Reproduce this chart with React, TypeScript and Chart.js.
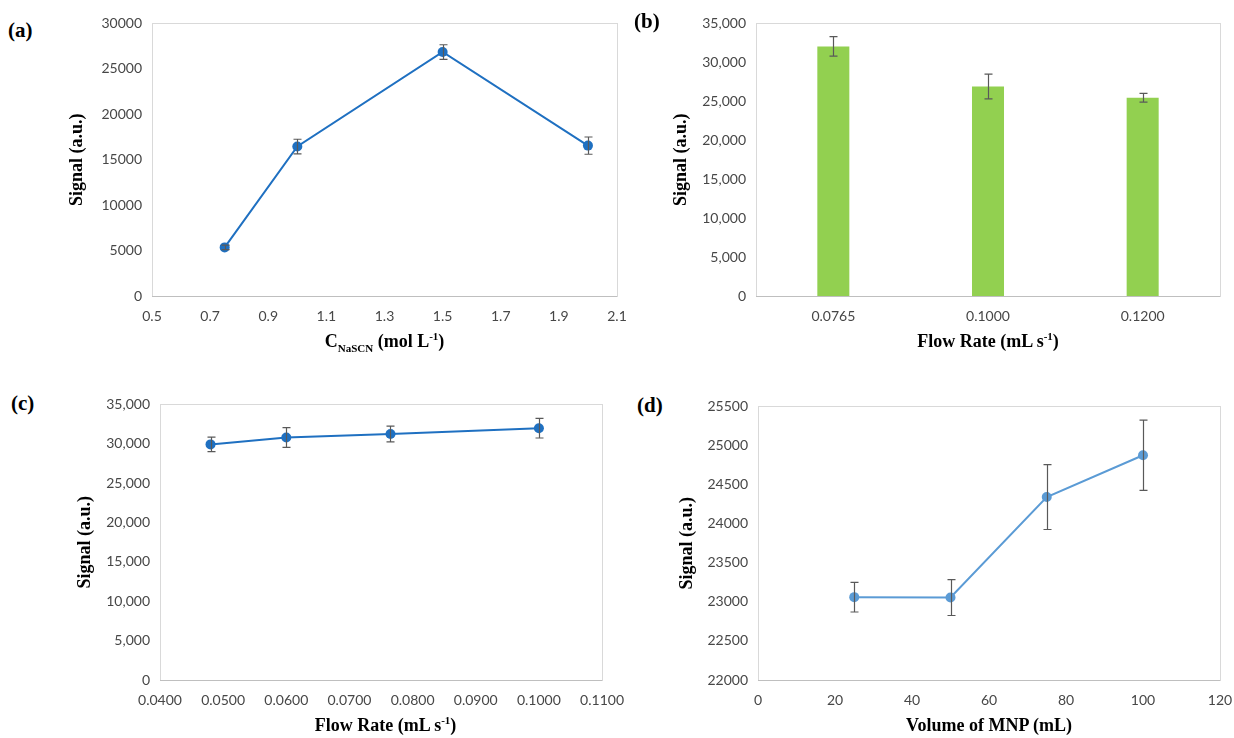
import React, { useEffect, useRef } from "react";
import { Chart, registerables } from "chart.js";

Chart.register(...registerables);

// ---------- data ----------
// (a)
const concA = [0.75, 1.0, 1.5, 2.0];
const signalA = [5350, 16450, 26850, 16550];
const errA = [250, 800, 800, 950];
// (b)
const flowB = ["0.0765", "0.1000", "0.1200"];
const signalB = [32050, 26900, 25450];
const errB = [1250, 1600, 560];
// (c)
const flowC = [0.048, 0.06, 0.0765, 0.1];
const signalC = [29920, 30800, 31230, 31980];
const errC = [930, 1250, 1000, 1250];
// (d)
const volD = [25, 50, 75, 100];
const signalD = [23060, 23055, 24340, 24875];
const errD = [190, 230, 415, 450];

const TICK_FONT = { family: "Lato, 'Open Sans', sans-serif", size: 14 };
const TITLE_FONT = { family: "'Liberation Serif', 'DejaVu Serif', serif", size: 18, weight: "bold" as const };
const TICK_COLOR = "#474747";

const errorBarPlugin = {
  id: "errorBars",
  afterDatasetsDraw(chart: any, _args: any, opts: any) {
    const errs: number[] = opts.errors || [];
    const meta = chart.getDatasetMeta(0);
    const ys = chart.scales.y;
    const ctx = chart.ctx;
    const values = chart.data.datasets[0].data;
    ctx.save();
    ctx.strokeStyle = "#595959";
    ctx.lineWidth = 1.2;
    meta.data.forEach((el: any, i: number) => {
      const raw = values[i];
      const v = typeof raw === "number" ? raw : raw.y;
      const e = errs[i] || 0;
      const x = Math.round(el.x) + 0.5;
      const y1 = ys.getPixelForValue(v + e);
      const y2 = ys.getPixelForValue(v - e);
      ctx.beginPath();
      ctx.moveTo(x, y1);
      ctx.lineTo(x, y2);
      ctx.moveTo(x - 4, y1);
      ctx.lineTo(x + 4, y1);
      ctx.moveTo(x - 4, y2);
      ctx.lineTo(x + 4, y2);
      ctx.stroke();
    });
    ctx.restore();
  },
};

const framePlugin = {
  id: "frame",
  beforeDatasetsDraw(chart: any) {
    const { ctx, chartArea } = chart;
    ctx.save();
    ctx.strokeStyle = "#d9d9d9";
    ctx.lineWidth = 1;
    ctx.strokeRect(
      Math.round(chartArea.left) + 0.5,
      Math.round(chartArea.top) + 0.5,
      Math.round(chartArea.right - chartArea.left),
      Math.round(chartArea.bottom - chartArea.top)
    );
    ctx.strokeStyle = "#bfbfbf";
    ctx.beginPath();
    ctx.moveTo(chartArea.left, Math.round(chartArea.bottom) + 0.5);
    ctx.lineTo(chartArea.right, Math.round(chartArea.bottom) + 0.5);
    ctx.stroke();
    ctx.restore();
  },
};

type Plot = { l: number; t: number; r: number; b: number; ytx: number };

const panels: Record<string, Plot> = {
  a: { l: 152, t: 17, r: 617, b: 296, ytx: 78 },
  b: { l: 756, t: 17, r: 1220, b: 296, ytx: 682 },
  c: { l: 160, t: 398, r: 611, b: 680, ytx: 86 },
  d: { l: 758, t: 400, r: 1220, b: 680, ytx: 688 },
};

function geom(p: Plot) {
  const left = p.ytx - 20;
  const top = p.t - 12;
  const width = p.r + 25 - left;
  const height = p.b + 64 - top;
  return { left, top, width, height, yw: p.l - left };
}

const commaFmt = (v: any) => Number(v).toLocaleString("en-US");

function baseOptions(p: Plot, yFmt: (v: any) => string, xScale: any, yScale: any, errors: number[]) {
  const g = geom(p);
  return {
    responsive: false,
    animation: false as const,
    layout: { padding: { left: 0, right: 25, top: 12, bottom: 0 } },
    plugins: {
      legend: { display: false },
      tooltip: { enabled: false },
      errorBars: { errors },
    },
    scales: {
      x: {
        ...xScale,
        grid: { display: false, drawTicks: false },
        border: { display: false },
        ticks: { ...(xScale.ticks || {}), color: TICK_COLOR, font: TICK_FONT, padding: 12, maxRotation: 0, autoSkip: false },
        title: { display: false },
        afterFit: (s: any) => {
          s.height = 64;
        },
      },
      y: {
        ...yScale,
        grid: { display: false, drawTicks: false },
        border: { display: false },
        ticks: { ...(yScale.ticks || {}), color: TICK_COLOR, font: TICK_FONT, padding: 10, callback: yFmt },
        title: { display: true, text: "Signal (a.u.)", color: "#000", font: TITLE_FONT, padding: { top: 9, bottom: 0 } },
        afterFit: (s: any) => {
          s.width = g.yw;
        },
      },
    },
  };
}

function PanelChart({ id, build }: { id: string; build: (c: HTMLCanvasElement) => Chart }) {
  const ref = useRef<HTMLCanvasElement>(null);
  const g = geom(panels[id]);
  useEffect(() => {
    if (!ref.current) return;
    const chart = build(ref.current);
    return () => chart.destroy();
  }, []);
  return (
    <canvas
      ref={ref}
      width={g.width}
      height={g.height}
      style={{ position: "absolute", left: g.left, top: g.top, width: g.width, height: g.height }}
    />
  );
}

const lineDataset = (xs: number[], ys: number[], color: string) => ({
  data: xs.map((x, i) => ({ x, y: ys[i] })),
  borderColor: color,
  backgroundColor: color,
  borderWidth: 2,
  pointRadius: 5,
  pointBorderWidth: 0,
  tension: 0,
});

const buildA = (c: HTMLCanvasElement) =>
  new Chart(c, {
    type: "line",
    data: { datasets: [lineDataset(concA, signalA, "#1f70c1")] },
    options: baseOptions(
      panels.a,
      (v) => String(v),
      { type: "linear", min: 0.5, max: 2.1, ticks: { stepSize: 0.2, callback: (v: any) => Number(v).toFixed(1) } },
      { min: 0, max: 30000, ticks: { stepSize: 5000 } },
      errA
    ) as any,
    plugins: [framePlugin, errorBarPlugin],
  });

const buildB = (c: HTMLCanvasElement) =>
  new Chart(c, {
    type: "bar",
    data: {
      labels: flowB,
      datasets: [
        {
          data: signalB,
          backgroundColor: "#92d050",
          categoryPercentage: 1,
          barPercentage: 0.207,
        },
      ],
    },
    options: baseOptions(
      panels.b,
      commaFmt,
      { type: "category" },
      { min: 0, max: 35000, ticks: { stepSize: 5000 } },
      errB
    ) as any,
    plugins: [framePlugin, errorBarPlugin],
  });

const buildC = (c: HTMLCanvasElement) =>
  new Chart(c, {
    type: "line",
    data: { datasets: [lineDataset(flowC, signalC, "#1f70c1")] },
    options: baseOptions(
      panels.c,
      commaFmt,
      { type: "linear", min: 0.04, max: 0.11, ticks: { stepSize: 0.01, callback: (v: any) => Number(v).toFixed(4) } },
      { min: 0, max: 35000, ticks: { stepSize: 5000 } },
      errC
    ) as any,
    plugins: [framePlugin, errorBarPlugin],
  });

const buildD = (c: HTMLCanvasElement) =>
  new Chart(c, {
    type: "line",
    data: { datasets: [lineDataset(volD, signalD, "#5b9bd5")] },
    options: baseOptions(
      panels.d,
      (v) => String(v),
      { type: "linear", min: 0, max: 120, ticks: { stepSize: 20 } },
      { min: 22000, max: 25500, ticks: { stepSize: 500 } },
      errD
    ) as any,
    plugins: [framePlugin, errorBarPlugin],
  });

const labelStyle: React.CSSProperties = {
  position: "absolute",
  fontFamily: "'Liberation Serif', 'DejaVu Serif', serif",
  fontWeight: "bold",
  fontSize: 21,
  color: "#000",
  lineHeight: "21px",
};

const smallStyle: React.CSSProperties = { fontSize: 11, lineHeight: 0 };

function XTitle({ id, children }: { id: string; children: React.ReactNode }) {
  const p = panels[id];
  const cx = (p.l + p.r) / 2;
  return (
    <div
      style={{
        position: "absolute",
        left: cx - 150,
        width: 300,
        top: p.b + 34,
        textAlign: "center",
        fontFamily: "'Liberation Serif', 'DejaVu Serif', serif",
        fontWeight: "bold",
        fontSize: 18,
        lineHeight: "22px",
        color: "#000",
        whiteSpace: "nowrap",
      }}
    >
      {children}
    </div>
  );
}

export default function App() {
  useEffect(() => {
    document.body.style.margin = "0";
    document.body.style.background = "#fff";
  }, []);
  return (
    <div style={{ position: "relative", width: 1234, height: 738, background: "#fff", overflow: "hidden" }}>
      <PanelChart id="a" build={buildA} />
      <PanelChart id="b" build={buildB} />
      <PanelChart id="c" build={buildC} />
      <PanelChart id="d" build={buildD} />
      <div style={{ ...labelStyle, left: 8, top: 20 }}>(a)</div>
      <div style={{ ...labelStyle, left: 634, top: 11 }}>(b)</div>
      <div style={{ ...labelStyle, left: 11, top: 393 }}>(c)</div>
      <div style={{ ...labelStyle, left: 637, top: 395 }}>(d)</div>
      <XTitle id="a">
        C<sub style={smallStyle}>NaSCN</sub> (mol L<sup style={smallStyle}>-1</sup>)
      </XTitle>
      <XTitle id="b">
        Flow Rate (mL s<sup style={smallStyle}>-1</sup>)
      </XTitle>
      <XTitle id="c">
        Flow Rate (mL s<sup style={smallStyle}>-1</sup>)
      </XTitle>
      <XTitle id="d">Volume of MNP (mL)</XTitle>
    </div>
  );
}
